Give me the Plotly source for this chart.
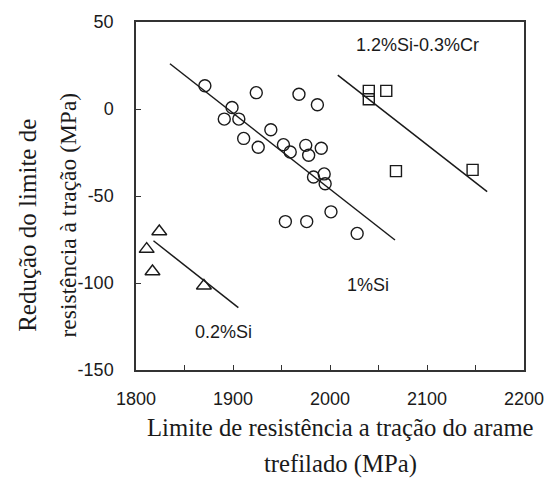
import plotly.graph_objects as go

# Data
si1_x = [1871, 1924, 1968, 1987, 1899, 1891, 1906, 1939, 1911, 1926, 1952,
         1959, 1975, 1978, 1991, 1983, 1994, 1995, 1954, 1976, 2001, 2028]
si1_y = [13.4, 9.4, 8.5, 2.4, 0.9, -5.8, -5.8, -11.9, -16.9, -22, -20.5,
         -24.7, -20.9, -26.6, -22.6, -39.1, -37.3, -43, -64.7, -64.7, -59.1, -71.5]

cr_x = [2040, 2058, 2040, 2068, 2147]
cr_y = [10.4, 10.4, 5.6, -35.7, -35]

si02_x = [1824, 1811, 1817, 1870]
si02_y = [-70.4, -80.5, -93.4, -101.6]

fit_si1_x = [1835, 2067]
fit_si1_y = [26, -75.3]
fit_cr_x = [2008, 2162]
fit_cr_y = [19.5, -47.5]
fit_si02_x = [1818, 1905.5]
fit_si02_y = [-75.7, -114.2]

labels = [
    dict(text="1.2%Si-0.3%Cr", x=2090, y=36.9),
    dict(text="1%Si", x=2039, y=-100.9),
    dict(text="0.2%Si", x=1890, y=-128.3),
]

x_range = [1800, 2200]
y_range = [-150, 50]
y_tickvals = [50, 0, -50, -100, -150]
y_ticktext = ["50", "0", "-50", "-100", "-150"]
x_title = ["Limite de resistência a tração do arame", "trefilado (MPa)"]
y_title = ["Redução do limite de", "resistência à tração (MPa)"]

sans = "Liberation Sans, Arial, sans-serif"
serif = "Liberation Serif, Times New Roman, serif"
ink = "#1a1a1a"

fig = go.Figure()

for fx, fy in [(fit_si1_x, fit_si1_y), (fit_cr_x, fit_cr_y), (fit_si02_x, fit_si02_y)]:
    fig.add_trace(go.Scatter(x=fx, y=fy, mode="lines",
                             line=dict(color=ink, width=1.5), showlegend=False))

fig.add_trace(go.Scatter(x=si1_x, y=si1_y, mode="markers", showlegend=False,
                         marker=dict(symbol="circle-open", size=12,
                                     line=dict(color=ink, width=1.4), color=ink)))
fig.add_trace(go.Scatter(x=cr_x, y=cr_y, mode="markers", showlegend=False,
                         marker=dict(symbol="square-open", size=11,
                                     line=dict(color=ink, width=1.4), color=ink)))
fig.add_trace(go.Scatter(x=si02_x, y=si02_y, mode="markers", showlegend=False,
                         marker=dict(symbol="triangle-up-open", size=13,
                                     line=dict(color=ink, width=1.4), color=ink)))

annotations = []
for lab in labels:
    annotations.append(dict(text=lab["text"], x=lab["x"], y=lab["y"],
                            xref="x", yref="y", showarrow=False,
                            font=dict(family=sans, size=18, color=ink)))

annotations += [
    dict(text=x_title[0], x=0.526, y=-0.166, xref="paper", yref="paper",
         showarrow=False, xanchor="center", yanchor="middle",
         font=dict(family=serif, size=24.7, color=ink)),
    dict(text=x_title[1], x=0.526, y=-0.271, xref="paper", yref="paper",
         showarrow=False, xanchor="center", yanchor="middle",
         font=dict(family=serif, size=24.7, color=ink)),
    dict(text=y_title[0], x=-0.2796, y=0.4157, xref="paper", yref="paper",
         showarrow=False, xanchor="center", yanchor="middle", textangle=-90,
         font=dict(family=serif, size=25, color=ink)),
    dict(text=y_title[1], x=-0.1763, y=0.4457, xref="paper", yref="paper",
         showarrow=False, xanchor="center", yanchor="middle", textangle=-90,
         font=dict(family=serif, size=23.5, color=ink)),
]

fig.update_layout(
    width=556, height=482,
    margin=dict(l=136, r=23, t=20, b=112),
    paper_bgcolor="white", plot_bgcolor="white",
    annotations=annotations,
)

fig.update_xaxes(range=x_range, dtick=100, tick0=1800,
                 showgrid=False, zeroline=False,
                 showline=True, mirror=True, linecolor="#333", linewidth=1.5,
                 ticks="inside", ticklen=5, tickwidth=1.2, tickcolor="#333",
                 minor=dict(dtick=50, ticks="inside", ticklen=5, tickwidth=1.2,
                            tickcolor="#333", showgrid=False),
                 tickfont=dict(family=sans, size=18, color=ink),
                 ticklabelstandoff=12)
fig.update_yaxes(range=y_range, tickvals=y_tickvals, ticktext=y_ticktext,
                 showgrid=False, zeroline=False,
                 showline=True, mirror=True, linecolor="#333", linewidth=1.5,
                 ticks="inside", ticklen=5, tickwidth=1.2, tickcolor="#333",
                 tickfont=dict(family=sans, size=18, color=ink),
                 ticklabelstandoff=17)

fig.write_html("out.html")
